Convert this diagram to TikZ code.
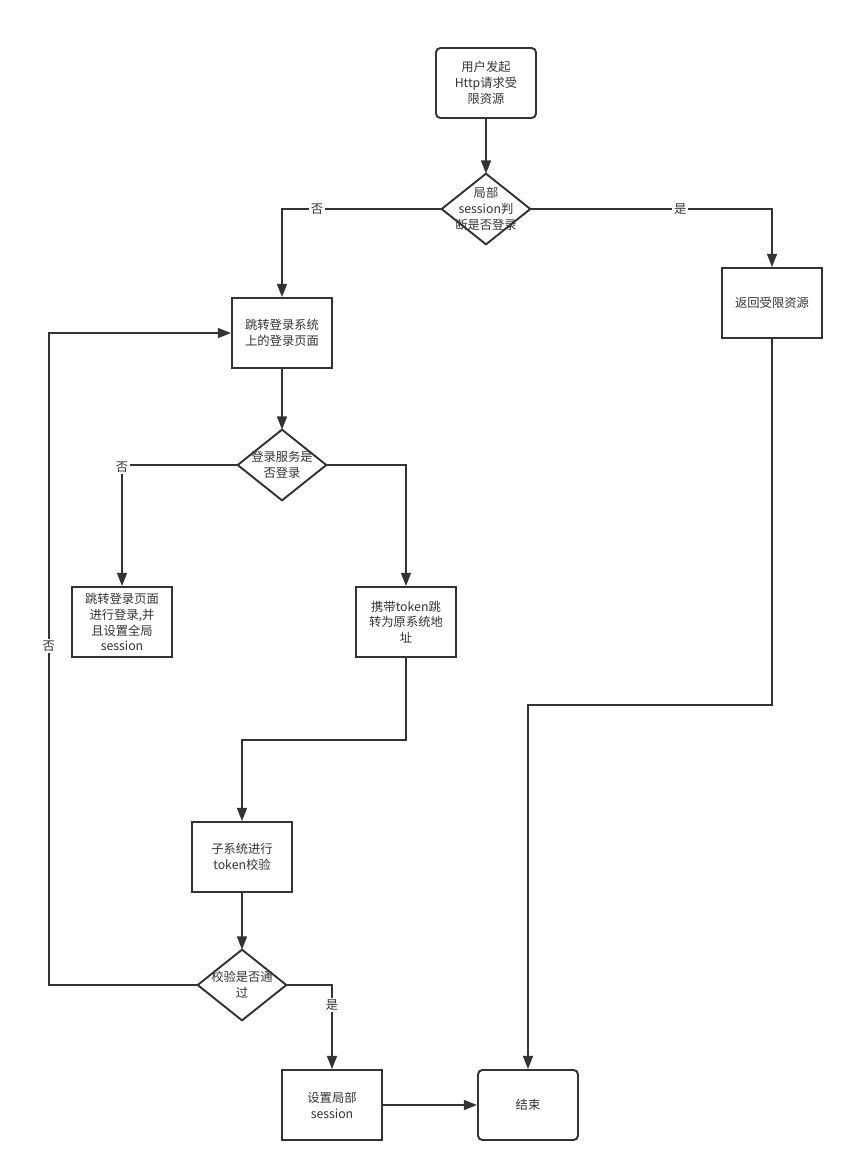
\documentclass[tikz,border=0pt]{standalone}
\usepackage{fontspec}
\setmainfont{Noto Sans CJK SC}
\usepackage{xcolor}
\usetikzlibrary{arrows.meta,positioning}
\definecolor{ink}{HTML}{333333}

\begin{document}
\begin{tikzpicture}[x=0.02cm,y=-0.02cm,
  font=\fontsize{7}{9}\selectfont,
  box/.style={draw=ink,line width=1.1pt,align=center,fill=white,inner sep=1pt,minimum width=2cm,minimum height=1.4cm,text=ink},
  roundbox/.style={box,rounded corners=2.5pt},
  decision/.style={align=center,inner sep=0pt,minimum width=1.76cm,minimum height=1.4cm,text=ink},
  arrow/.style={-{Triangle[length=7.5pt,width=5.6pt]},line width=1.1pt,draw=ink},
  lbl/.style={fill=white,inner sep=1pt,text=ink}
]
\useasboundingbox (0,0) rectangle (854,1171);

\node[roundbox] (start) at (486,83) {用户发起\\Http请求受\\限资源};
\node[decision] (d1) at (486,209) {局部\\session判\\断是否登录};
\node[box] (jump) at (282,333) {跳转登录系统\\上的登录页面};
\node[box] (ret) at (772,303) {返回受限资源};
\node[decision] (d2) at (282,465) {登录服务是\\否登录};
\node[box] (login) at (122,622) {跳转登录页面\\进行登录,并\\且设置全局\\session};
\node[box] (token) at (406,622) {携带token跳\\转为原系统地\\址};
\node[box] (verify) at (242,857) {子系统进行\\token校验};
\node[decision] (d3) at (242,985) {校验是否通\\过};
\node[box] (setsess) at (332,1105) {设置局部\\session};
\node[roundbox] (end) at (528,1105) {结束};

% diamond outlines
\foreach \d in {d1,d2,d3}
  \draw[ink,line width=1.1pt] (\d.north) -- (\d.east) -- (\d.south) -- (\d.west) -- cycle;

\draw[arrow] (start) -- (d1.north);
\draw[arrow] (d1.west) -| node[lbl,pos=0.39] {否} (jump.north);
\draw[arrow] (d1.east) -| node[lbl,pos=0.31] {是} (ret.north);
\draw[arrow] (jump) -- (d2.north);
\draw[arrow] (d2.west) -| node[lbl,pos=0.5,yshift=-1pt] {否} (login.north);
\draw[arrow] (d2.east) -| (token.north);
\draw[arrow] (token.south) -- ++(0,82) -| (verify.north);
\draw[arrow] (verify) -- (d3.north);
\draw[arrow] (d3.west) -- ++(-149,0) |- node[lbl,pos=0.26] {否} (jump.west);
\draw[arrow] (d3.east) -| node[lbl,pos=0.62] {是} (setsess.north);
\draw[arrow] (setsess) -- (end);
\draw[arrow] (ret.south) -- ++(0,366) -| (end.north);
\end{tikzpicture}
\end{document}
